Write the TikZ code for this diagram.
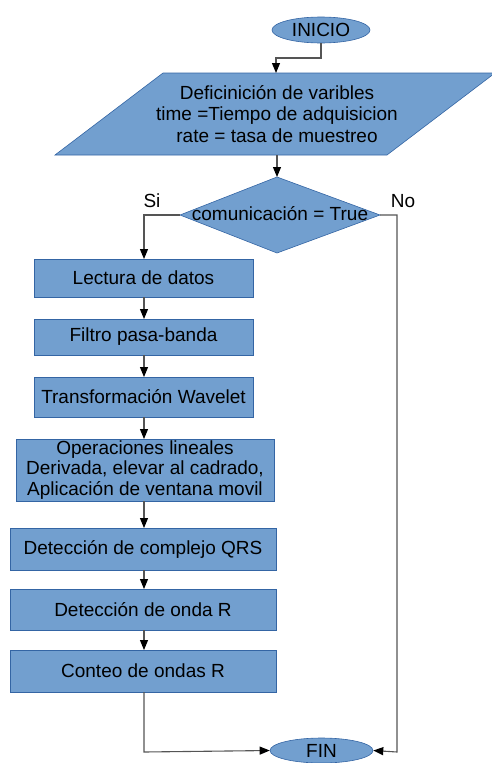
\documentclass[tikz,border=0pt]{standalone}
\usepackage{fontspec}
\setmainfont{Liberation Sans}
\usetikzlibrary{arrows.meta,shapes.geometric}
\definecolor{boxfill}{HTML}{729FCF}
\definecolor{boxline}{HTML}{3465A4}
\definecolor{wire}{HTML}{555555}
\begin{document}
\begin{tikzpicture}[x=1pt,y=-1pt,
  font=\fontsize{19}{21.5}\selectfont,
  procbox/.style={draw=boxline,line width=0.6pt,fill=boxfill,inner sep=0pt,align=center},
  termbox/.style={ellipse,draw=boxline,line width=0.6pt,fill=boxfill,inner sep=0pt},
  flow/.style={draw=wire,line width=1.1pt,-{Triangle[width=8pt,length=10pt,fill=black,color=black]}},
  plain/.style={draw=wire,line width=1.1pt}]
\useasboundingbox (0,0) rectangle (491,763);

% start terminal
\node[termbox,minimum width=98pt,minimum height=26pt] (inicio) at (321,30) {INICIO};

% input parallelogram (variable definitions)
\path[procbox] (163,73) -- (495,73) -- (387,155) -- (55,155) -- cycle;
\coordinate (defTop) at (276,73);
\coordinate (defBot) at (277,155);
\node[align=center,inner sep=0pt] (def) at (277,114)
  {Deficinición de varibles\\time =Tiempo de adquisicion\\rate = tasa de muestreo};

% decision
\path[procbox] (277,177) -- (380,215) -- (277,253) -- (180,215) -- cycle;
\coordinate (decTop) at (277,177);
\coordinate (decL) at (180,215);
\coordinate (decR) at (380,215);
\node[inner sep=0pt] (dec) at (280,214) {comunicación = True};

% processing steps
\node[procbox,minimum width=219pt,minimum height=38pt] (s1) at (143.5,278) {Lectura de datos};
\node[procbox,minimum width=219pt,minimum height=36pt] (s2) at (143.5,337) {Filtro pasa-banda};
\node[procbox,minimum width=219pt,minimum height=40pt] (s3) at (143.5,397) {Transformación Wavelet};
\node[procbox,minimum width=258pt,minimum height=62pt,font=\fontsize{19}{20.5}\selectfont] (s4) at (145,470)
  {Operaciones lineales\\Derivada, elevar al cadrado,\\Aplicación de ventana movil};
\node[procbox,minimum width=266pt,minimum height=42pt] (s5) at (143,549) {Detección de complejo QRS};
\node[procbox,minimum width=266pt,minimum height=41pt] (s6) at (143,609.5) {Detección de onda R};
\node[procbox,minimum width=266pt,minimum height=42pt] (s7) at (143,671) {Conteo de ondas R};

% end terminal
\node[termbox,minimum width=103pt,minimum height=25pt] (fin) at (321.5,750.5) {FIN};

% branch labels
\node (si) at (152,201) {Si};
\node (no) at (403,201) {No};

% connectors
\draw[flow] (inicio.south) -- (321,58) -- (276,58) -- (defTop);
\draw[flow] (defBot) -- (decTop);
\draw[flow] (decL) -- (144,215) -- (144,259);
\draw[flow] (144,297) -- (144,319);
\draw[flow] (144,355) -- (144,377);
\draw[flow] (144,417) -- (144,439);
\draw[flow] (144,501) -- (144,528);
\draw[flow] (144,570) -- (144,589);
\draw[flow] (144,630) -- (144,650);
\draw[flow] (144,692) -- (144,752) -- (fin.west);
\draw[flow] (decR) -- (397,215) -- (397,752) -- (fin.east);
\end{tikzpicture}
\end{document}
